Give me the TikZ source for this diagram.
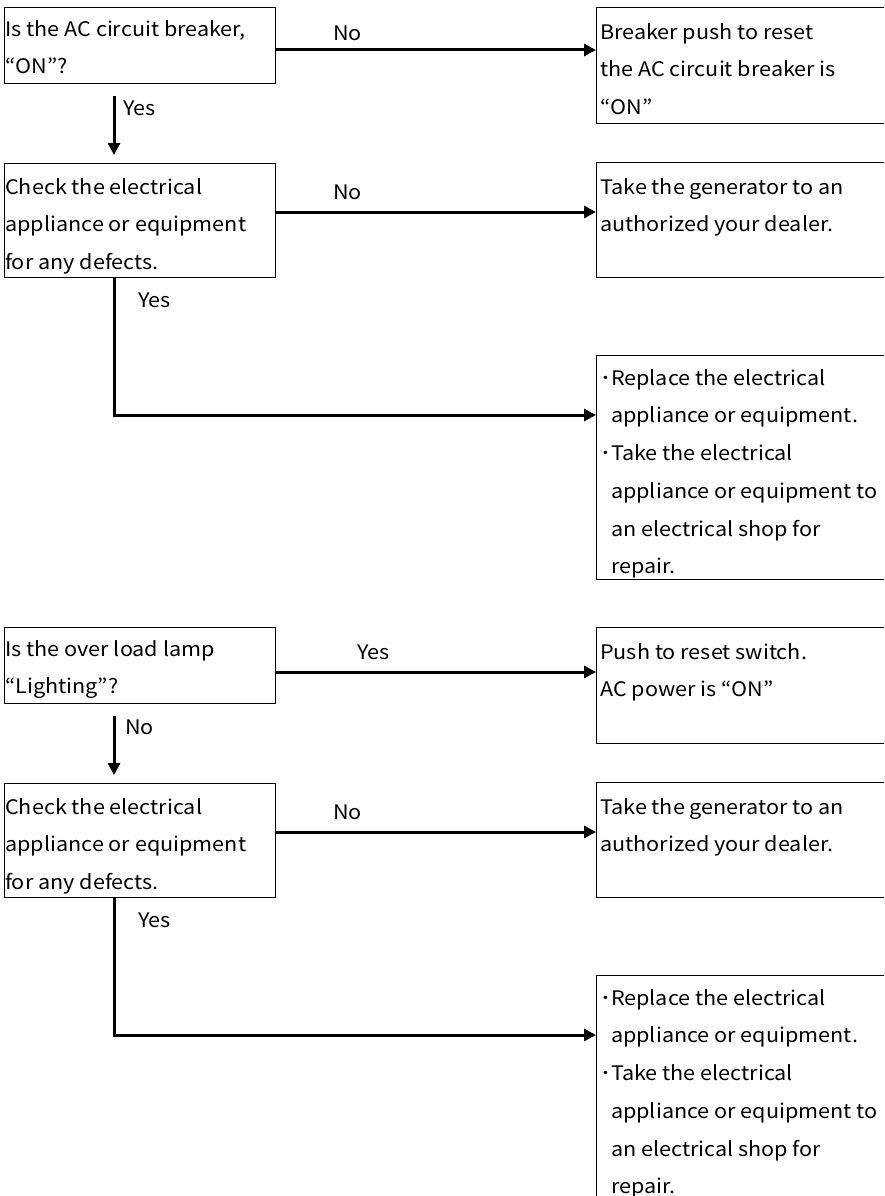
\documentclass[tikz,border=0pt]{standalone}
\usepackage{fontspec}
\setmainfont{Noto Sans CJK JP}[FakeStretch=1.08]
\usetikzlibrary{arrows.meta}
\tikzset{
  box/.style={draw, line width=1.3pt, anchor=north west, inner sep=0pt},
  txt/.style={anchor=north west, inner sep=0pt, align=left, font=\fontsize{20}{37.7}\selectfont},
  lbl/.style={anchor=west, inner sep=0pt, font=\fontsize{20}{37.7}\selectfont},
  arr/.style={line width=3pt, -{Triangle[length=12pt,width=12pt]}},
}
\newcommand{\fl}{\rule{0pt}{20pt}}
\newcommand{\ind}{\hphantom{･}}
\begin{document}
\begin{tikzpicture}[x=1pt,y=-1pt]
\useasboundingbox (0,0) rectangle (884,1196);
\clip (0,0) rectangle (884,1196);
\fill[white] (0,0) rectangle (884,1196);
\coordinate (vx) at (114,0);
% ---------- first half ----------
\node[box, minimum width=271pt, minimum height=76pt] (B1) at (4,7) {};
\node[txt] (T1) at (5,16) {\fl Is the AC circuit breaker,\\“ON”?};
\node[box, minimum width=304pt, minimum height=116pt] (R1) at (596,7) {};
\node[txt] (U1) at (600,19) {\fl Breaker push to reset\\the AC circuit breaker is\\“ON”};

\node[box, minimum width=271pt, minimum height=114pt] (B2) at (4,163) {};
\node[txt] (T2) at (5,174) {\fl Check the electrical\\appliance or equipment\\for any defects.};
\node[box, minimum width=304pt, minimum height=115pt] (R2) at (596,162) {};
\node[txt] (U2) at (600,174) {\fl Take the generator to an\\authorized your dealer.};

\node[box, minimum width=304pt, minimum height=224pt] (R3) at (596,355) {};
\node[txt] (U3) at (600,365) {\fl ･Replace the electrical\\\ind appliance or equipment.\\･Take the electrical\\\ind appliance or equipment to\\\ind an electrical shop for\\\ind repair.};

\draw[arr] (B1.east |- 0,50) -- (R1.west |- 0,50);
\node[lbl] (L1) at (333,33) {No};
\draw[arr] ([yshift=-12pt]B1.south -| vx) -- ([yshift=8pt]B2.north -| vx);
\node[lbl] (L2) at (123,108) {Yes};
\draw[arr] (B2.east |- 0,212) -- (R2.west |- 0,212);
\node[lbl] (L3) at (333,192) {No};
\draw[arr] (B2.south -| vx) -- (vx |- 0,415) -- (R3.west |- 0,415);
\node[lbl] (L4) at (138,300) {Yes};

% ---------- second half ----------
\node[box, minimum width=271pt, minimum height=76pt] (B3) at (4,627) {};
\node[txt] (T3) at (5,636) {\fl Is the over load lamp\\“Lighting”?};
\node[box, minimum width=304pt, minimum height=116pt] (R4) at (596,627) {};
\node[txt] (U4) at (600,639) {\fl Push to reset switch.\\AC power is “ON”};

\node[box, minimum width=271pt, minimum height=114pt] (B4) at (4,783) {};
\node[txt] (T4) at (5,794) {\fl Check the electrical\\appliance or equipment\\for any defects.};
\node[box, minimum width=304pt, minimum height=115pt] (R5) at (596,782) {};
\node[txt] (U5) at (600,794) {\fl Take the generator to an\\authorized your dealer.};

\node[box, minimum width=304pt, minimum height=240pt] (R6) at (596,975) {};
\node[txt] (U6) at (600,985) {\fl ･Replace the electrical\\\ind appliance or equipment.\\･Take the electrical\\\ind appliance or equipment to\\\ind an electrical shop for\\\ind repair.};

\draw[arr] (B3.east |- 0,672) -- (R4.west |- 0,672);
\node[lbl] (L5) at (357,652) {Yes};
\draw[arr] ([yshift=-12pt]B3.south -| vx) -- ([yshift=8pt]B4.north -| vx);
\node[lbl] (L6) at (125,727) {No};
\draw[arr] (B4.east |- 0,832) -- (R5.west |- 0,832);
\node[lbl] (L7) at (333,812) {No};
\draw[arr] (B4.south -| vx) -- (vx |- 0,1035) -- (R6.west |- 0,1035);
\node[lbl] (L8) at (138,920) {Yes};
\end{tikzpicture}
\end{document}
